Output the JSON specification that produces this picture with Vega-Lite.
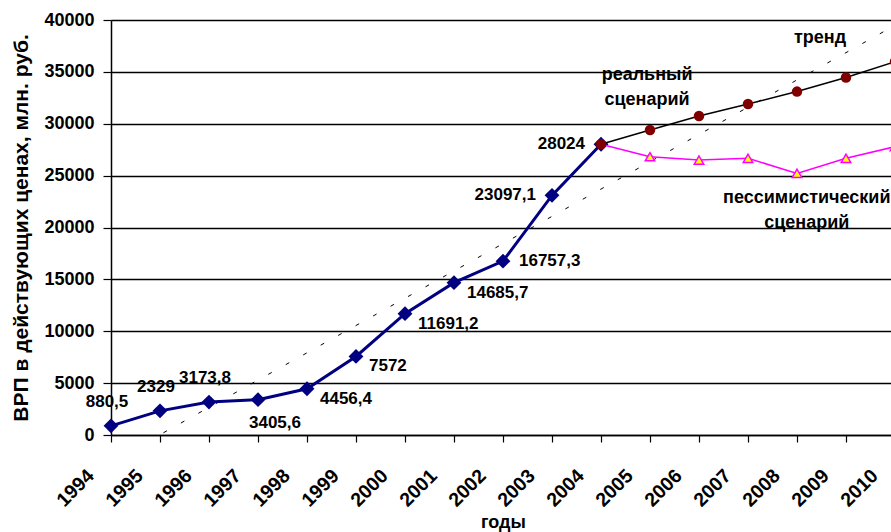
{
  "$schema": "https://vega.github.io/schema/vega-lite/v6.json",
  "autosize": "none",
  "width": 784,
  "height": 415,
  "padding": {"left": 111, "top": 20, "right": 0, "bottom": 97},
  "background": "white",
  "config": {
    "font": "Liberation Sans",
    "view": {"stroke": null},
    "locale": {"number": {"decimal": ",", "thousands": "", "grouping": [3], "currency": ["", ""]}}
  },
  "datasets": {
    "main": [
      {"year": 1994, "series": "fact", "value": 880.5},
      {"year": 1995, "series": "fact", "value": 2329},
      {"year": 1996, "series": "fact", "value": 3173.8},
      {"year": 1997, "series": "fact", "value": 3405.6},
      {"year": 1998, "series": "fact", "value": 4456.4},
      {"year": 1999, "series": "fact", "value": 7572},
      {"year": 2000, "series": "fact", "value": 11691.2},
      {"year": 2001, "series": "fact", "value": 14685.7},
      {"year": 2002, "series": "fact", "value": 16757.3},
      {"year": 2003, "series": "fact", "value": 23097.1},
      {"year": 2004, "series": "fact", "value": 28024},
      {"year": 2004, "series": "real", "value": 28024},
      {"year": 2005, "series": "real", "value": 29400},
      {"year": 2006, "series": "real", "value": 30750},
      {"year": 2007, "series": "real", "value": 31900},
      {"year": 2008, "series": "real", "value": 33100},
      {"year": 2009, "series": "real", "value": 34450},
      {"year": 2010, "series": "real", "value": 35980},
      {"year": 2004, "series": "pess", "value": 28024},
      {"year": 2005, "series": "pess", "value": 26820},
      {"year": 2006, "series": "pess", "value": 26500},
      {"year": 2007, "series": "pess", "value": 26670},
      {"year": 2008, "series": "pess", "value": 25220},
      {"year": 2009, "series": "pess", "value": 26670},
      {"year": 2010, "series": "pess", "value": 27790},
      {"year": 1994, "series": "trend", "value": -2599},
      {"year": 2010, "series": "trend", "value": 39485}
    ],
    "notes": [
      {"year": 2004.94, "value": 34700, "text": ["реальный", "сценарий"]},
      {"year": 2008.47, "value": 38265, "text": ["тренд"]},
      {"year": 2008.2, "value": 22840, "text": ["пессимистический", "сценарий"]}
    ]
  },
  "encoding": {
    "x": {
      "field": "year",
      "type": "quantitative",
      "scale": {"domain": [1994, 2010], "nice": false, "zero": false},
      "axis": {
        "title": "годы",
        "values": [1994, 1995, 1996, 1997, 1998, 1999, 2000, 2001, 2002, 2003, 2004, 2005, 2006, 2007, 2008, 2009, 2010],
        "format": "d",
        "labelAngle": -45,
        "labelAlign": "right",
        "labelBaseline": "top",
        "labelFont": "Liberation Sans",
        "labelFontSize": 19.5,
        "labelFontWeight": "bold",
        "labelColor": "black",
        "labelPadding": 24,
        "labelOffset": -27,
        "labelFlush": false,
        "labelOverlap": false,
        "labelBound": false,
        "domainColor": "black",
        "domainWidth": 1.5,
        "tickColor": "black",
        "tickSize": 7,
        "tickWidth": 1.2,
        "grid": false,
        "titleFont": "Liberation Sans",
        "titleFontSize": 18,
        "titleFontWeight": "bold",
        "titleColor": "black",
        "titlePadding": 4
      }
    },
    "y": {
      "field": "value",
      "type": "quantitative",
      "scale": {"domain": [0, 40000], "nice": false},
      "axis": {
        "title": "ВРП в действующих ценах, млн. руб.",
        "values": [0, 5000, 10000, 15000, 20000, 25000, 30000, 35000, 40000],
        "format": "d",
        "labelFont": "Liberation Sans",
        "labelFontSize": 18,
        "labelFontWeight": "bold",
        "labelColor": "black",
        "labelPadding": 9,
        "domainColor": "black",
        "domainWidth": 1.5,
        "tickColor": "black",
        "tickSize": 8,
        "tickWidth": 1.2,
        "grid": true,
        "gridColor": "black",
        "gridWidth": 1.3,
        "titleFont": "Liberation Sans",
        "titleFontSize": 21,
        "titleFontWeight": "bold",
        "titleColor": "black",
        "titlePadding": 12
      }
    }
  },
  "layer": [
    {
      "data": {"name": "main"},
      "transform": [{"filter": "datum.series === 'trend'"}],
      "mark": {"type": "line", "color": "black", "strokeWidth": 1, "strokeDash": [4, 16], "clip": true}
    },
    {
      "data": {"name": "main"},
      "transform": [{"filter": "datum.series === 'fact'"}],
      "mark": {"type": "line", "color": "#000080", "strokeWidth": 3}
    },
    {
      "data": {"name": "main"},
      "transform": [{"filter": "datum.series === 'fact'"}],
      "mark": {"type": "point", "shape": "diamond", "filled": true, "color": "#000080", "size": 220, "opacity": 1}
    },
    {
      "data": {"name": "main"},
      "transform": [{"filter": "datum.series === 'pess'"}],
      "mark": {"type": "line", "color": "#FF00FF", "strokeWidth": 1.5}
    },
    {
      "data": {"name": "main"},
      "transform": [{"filter": "datum.series === 'pess' && datum.year > 2004"}],
      "mark": {"type": "point", "shape": "triangle-up", "filled": true, "fill": "#FFFF00", "stroke": "#FF00FF", "strokeWidth": 1.5, "size": 90, "opacity": 1}
    },
    {
      "data": {"name": "main"},
      "transform": [{"filter": "datum.series === 'real'"}],
      "mark": {"type": "line", "color": "black", "strokeWidth": 1.5}
    },
    {
      "data": {"name": "main"},
      "transform": [{"filter": "datum.series === 'real'"}],
      "mark": {"type": "point", "shape": "circle", "filled": true, "color": "#800000", "size": 110, "opacity": 1}
    },
    {
      "data": {"name": "main"},
      "transform": [{"filter": "datum.series === 'fact' && indexof([1994, 1995, 1996], datum.year) >= 0"}],
      "mark": {"type": "text", "fontSize": 17, "fontWeight": "bold", "color": "black", "align": "center", "baseline": "middle", "dx": -4, "dy": -24},
      "encoding": {"text": {"field": "value", "type": "quantitative", "format": "~f"}}
    },
    {
      "data": {"name": "main"},
      "transform": [{"filter": "datum.series === 'fact' && datum.year === 1997"}],
      "mark": {"type": "text", "fontSize": 17, "fontWeight": "bold", "color": "black", "align": "center", "baseline": "middle", "dx": 17, "dy": 23},
      "encoding": {"text": {"field": "value", "type": "quantitative", "format": "~f"}}
    },
    {
      "data": {"name": "main"},
      "transform": [{"filter": "datum.series === 'fact' && indexof([1998, 1999, 2000, 2001], datum.year) >= 0"}],
      "mark": {"type": "text", "fontSize": 17, "fontWeight": "bold", "color": "black", "align": "left", "baseline": "middle", "dx": 13, "dy": 10},
      "encoding": {"text": {"field": "value", "type": "quantitative", "format": "~f"}}
    },
    {
      "data": {"name": "main"},
      "transform": [{"filter": "datum.series === 'fact' && datum.year === 2002"}],
      "mark": {"type": "text", "fontSize": 17, "fontWeight": "bold", "color": "black", "align": "left", "baseline": "middle", "dx": 16, "dy": 0},
      "encoding": {"text": {"field": "value", "type": "quantitative", "format": "~f"}}
    },
    {
      "data": {"name": "main"},
      "transform": [{"filter": "datum.series === 'fact' && indexof([2003, 2004], datum.year) >= 0"}],
      "mark": {"type": "text", "fontSize": 17, "fontWeight": "bold", "color": "black", "align": "right", "baseline": "middle", "dx": -16, "dy": 0},
      "encoding": {"text": {"field": "value", "type": "quantitative", "format": "~f"}}
    },
    {
      "data": {"name": "notes"},
      "mark": {"type": "text", "fontSize": 18, "fontWeight": "bold", "color": "black", "align": "center", "baseline": "middle", "lineHeight": 25},
      "encoding": {"text": {"field": "text"}}
    }
  ]
}
